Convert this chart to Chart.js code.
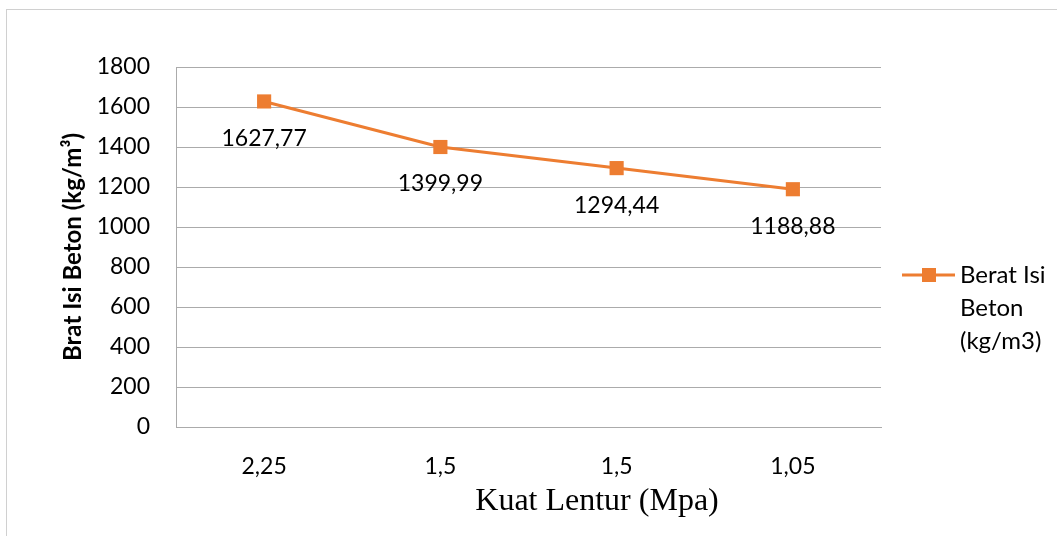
<!DOCTYPE html>
<html>
<head>
<meta charset="utf-8">
<script src="https://cdn.jsdelivr.net/npm/chart.js"></script>
<style>
  html, body { margin: 0; padding: 0; background: #fff; }
  #wrap { position: relative; width: 1057px; height: 536px; overflow: hidden; }
</style>
</head>
<body>
<div id="wrap"><canvas id="chart" width="1057" height="536"></canvas></div>
<script>
const categories = ["2,25", "1,5", "1,5", "1,05"];
const beratIsi = [1627.77, 1399.99, 1294.44, 1188.88];
const valueLabels = ["1627,77", "1399,99", "1294,44", "1188,88"];
const seriesName = "Berat Isi Beton (kg/m3)";
const legendLines = ["Berat Isi", "Beton", "(kg/m3)"];

const ORANGE = "#ED7D31";
const GRID = "#ababab";
const FONT = "Lato, 'Open Sans', sans-serif";

// frame, data labels, x title and wrapped legend
const extras = {
  id: "extras",
  beforeDraw(chart) {
    const ctx = chart.ctx;
    ctx.save();
    ctx.strokeStyle = "#d0d0d0";
    ctx.lineWidth = 1;
    ctx.strokeRect(6.5, 9.5, 1100, 600);
    ctx.restore();
  },
  afterDatasetsDraw(chart) {
    const ctx = chart.ctx;
    const meta = chart.getDatasetMeta(0);
    ctx.save();
    ctx.fillStyle = "#000";
    ctx.font = "23px " + FONT;
    ctx.textAlign = "center";
    ctx.textBaseline = "middle";
    meta.data.forEach((pt, i) => {
      ctx.fillText(valueLabels[i], pt.x, pt.y + 37);
    });

    // x axis title, sits right of centre like the original
    ctx.font = "32px 'Liberation Serif', 'Times New Roman', serif";
    ctx.fillText("Kuat Lentur (Mpa)", 597, 502);

    // legend
    const ly = 275;
    ctx.strokeStyle = ORANGE;
    ctx.lineWidth = 3;
    ctx.beginPath();
    ctx.moveTo(902, ly);
    ctx.lineTo(955, ly);
    ctx.stroke();
    ctx.fillStyle = ORANGE;
    ctx.fillRect(922, ly - 7, 14, 14);
    ctx.fillStyle = "#000";
    ctx.font = "24px " + FONT;
    ctx.textAlign = "left";
    legendLines.forEach((t, i) => ctx.fillText(t, 960, ly + i * 33));
    ctx.restore();
  }
};

new Chart(document.getElementById("chart"), {
  type: "line",
  data: {
    labels: categories,
    datasets: [{
      label: seriesName,
      data: beratIsi,
      borderColor: ORANGE,
      backgroundColor: ORANGE,
      borderWidth: 3,
      pointStyle: "rect",
      pointRadius: 10,
      pointBorderWidth: 0,
      tension: 0
    }]
  },
  options: {
    responsive: false,
    animation: false,
    layout: { padding: { top: 67, right: 176, left: 0, bottom: 0 } },
    plugins: {
      legend: { display: false },
      tooltip: { enabled: false }
    },
    scales: {
      x: {
        offset: true,
        grid: { display: false, offset: true },
        border: { display: true, color: GRID, width: 1 },
        ticks: { color: "#000", font: { family: FONT, size: 23 }, padding: 18 },
        afterFit: (scale) => { scale.height = 109; }
      },
      y: {
        min: 0,
        max: 1800,
        ticks: {
          stepSize: 200,
          color: "#000",
          font: { family: FONT, size: 23 },
          padding: 26,
          callback: (v) => String(v)
        },
        grid: { color: GRID, drawTicks: false },
        border: { display: true, color: GRID, width: 1 },
        title: {
          display: true,
          text: "Brat Isi Beton (kg/m³)",
          color: "#000",
          font: { family: FONT, size: 24, weight: "bold" },
          padding: { top: 59, bottom: 0 }
        },
        afterFit: (scale) => { scale.width = 176; }
      }
    }
  },
  plugins: [extras]
});
</script>
</body>
</html>
